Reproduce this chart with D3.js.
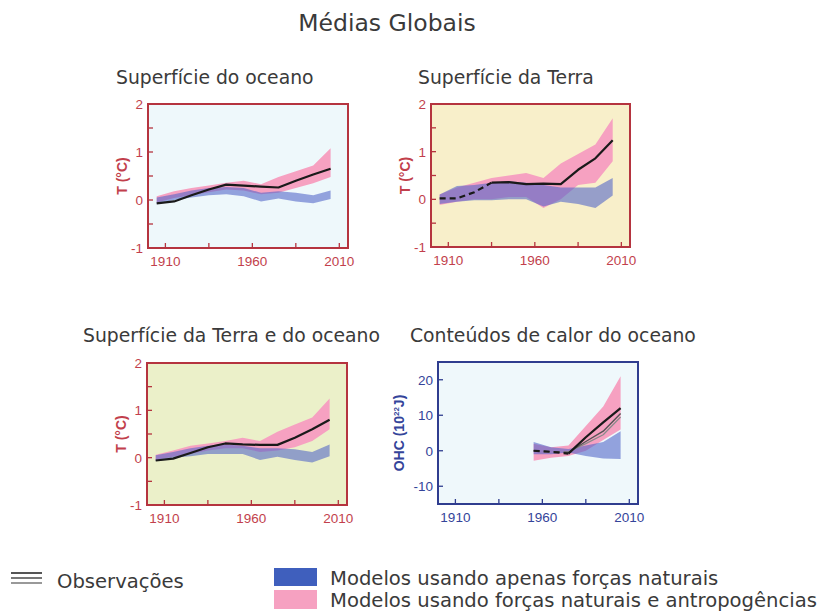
<!DOCTYPE html>
<html>
<head>
<meta charset="utf-8">
<script src="https://cdn.jsdelivr.net/npm/d3@7"></script>
<style>
  html, body { margin: 0; padding: 0; background: #fff; }
  svg { display: block; font-family: "DejaVu Sans", sans-serif; }
</style>
</head>
<body>
<svg id="chart" width="823" height="611"></svg>
<script>
// Decadal means (temperature anomalies in °C, ocean heat content in 10^22 J)
const decades = [1905, 1915, 1925, 1935, 1945, 1955, 1965, 1975, 1985, 1995, 2005];

// Ocean surface
const oceanObs   = [-0.07, -0.03, 0.10, 0.22, 0.32, 0.30, 0.28, 0.26, 0.40, 0.53, 0.65];
const oceanAllHi = [0.08, 0.18, 0.25, 0.30, 0.36, 0.40, 0.33, 0.48, 0.60, 0.72, 1.08];
const oceanAllLo = [-0.05, 0.04, 0.10, 0.16, 0.22, 0.20, 0.12, 0.15, 0.25, 0.35, 0.48];
const oceanNatHi = [0.05, 0.12, 0.20, 0.25, 0.27, 0.25, 0.15, 0.18, 0.15, 0.10, 0.20];
const oceanNatLo = [-0.08, 0.00, 0.05, 0.10, 0.12, 0.08, -0.03, 0.03, -0.03, -0.07, 0.02];

// Land surface
const landObs   = [0.02, 0.02, 0.15, 0.35, 0.36, 0.32, 0.33, 0.32, 0.62, 0.86, 1.24];
const landAllHi = [0.10, 0.25, 0.35, 0.45, 0.50, 0.55, 0.45, 0.75, 0.95, 1.15, 1.70];
const landAllLo = [-0.12, -0.05, 0.00, 0.00, 0.05, 0.05, -0.18, 0.00, 0.30, 0.35, 0.80];
const landNatHi = [0.10, 0.28, 0.30, 0.35, 0.38, 0.35, 0.30, 0.25, 0.25, 0.25, 0.45];
const landNatLo = [-0.10, -0.05, -0.02, -0.02, 0.00, 0.00, -0.15, -0.05, -0.10, -0.18, 0.08];

// Land and ocean surface
const globalObs   = [-0.06, -0.02, 0.10, 0.22, 0.30, 0.28, 0.27, 0.27, 0.42, 0.60, 0.80];
const globalAllHi = [0.06, 0.15, 0.25, 0.30, 0.35, 0.42, 0.35, 0.55, 0.70, 0.85, 1.25];
const globalAllLo = [-0.05, 0.02, 0.08, 0.15, 0.20, 0.20, 0.12, 0.15, 0.22, 0.35, 0.60];
const globalNatHi = [0.05, 0.12, 0.20, 0.25, 0.28, 0.25, 0.20, 0.20, 0.18, 0.12, 0.28];
const globalNatLo = [-0.07, 0.00, 0.03, 0.08, 0.08, 0.08, -0.05, 0.02, -0.05, -0.10, 0.03];

// Ocean heat content
const ohcDecades = [1955, 1965, 1975, 1985, 1995, 2005];
const ohcObsA  = [0.0, -0.3, -0.8, 3.8, 8.0, 12.0];
const ohcObsB  = [0.0, -0.2, -0.5, 2.6, 5.5, 10.5];
const ohcObsC  = [0.0, -0.4, -0.3, 2.0, 4.5, 9.5];
const ohcAllHi = [2.0, 1.0, 1.5, 7.0, 12.5, 21.0];
const ohcAllLo = [-2.8, -2.0, -1.5, 0.0, 3.0, 6.0];
const ohcNatHi = [2.5, 1.0, 0.5, 1.5, 2.5, 5.5];
const ohcNatLo = [-1.0, -1.0, -0.5, -1.5, -2.2, -2.3];

// Axis tick values
const xTicks = [1910, 1935, 1960, 1985, 2010];
const xTickLabels = [1910, 1960, 2010];
const tTicks = [-1, -0.5, 0, 0.5, 1, 1.5, 2];
const tTickLabels = [-1, 0, 1, 2];
const ohcTicks = [-10, 0, 10, 20];

const svg = d3.select("#chart");

const RED = "#b5343f";
const RED_TEXT = "#c23f4c";
const BLUE = "#2f3d8f";
const BLUE_TEXT = "#34449a";
const PINK = "#f6a1c1";
const NATBLUE = "#4f64c8";
const AXIS_FONT = "'Liberation Sans', Arial, sans-serif";

// Title
svg.append("text")
  .attr("x", 387).attr("y", 31)
  .attr("text-anchor", "middle")
  .attr("font-size", 23.5)
  .attr("fill", "#3a3a3a")
  .text("Médias Globais");

function zip(years, a, b) {
  return years.map((y, i) => ({ year: y, v0: a[i], v1: b ? b[i] : null }));
}

function drawPanel(cfg) {
  const g = svg.append("g").attr("transform", `translate(${cfg.x},${cfg.y})`);
  const W = cfg.w, H = cfg.h;

  const x = d3.scaleLinear().domain([1900, 2015]).range([0, W]);
  const y = d3.scaleLinear().domain(cfg.yDomain).range([H, 0]);

  g.append("rect").attr("width", W).attr("height", H).attr("fill", cfg.bg);

  const area = d3.area()
    .x(d => x(d.year))
    .y0(d => y(d.v0))
    .y1(d => y(d.v1));

  g.append("path")
    .datum(zip(cfg.years, cfg.allLo, cfg.allHi))
    .attr("d", area)
    .attr("fill", PINK);

  g.append("path")
    .datum(zip(cfg.years, cfg.natLo, cfg.natHi))
    .attr("d", area)
    .attr("fill", NATBLUE)
    .attr("fill-opacity", 0.58);

  const line = d3.line().x(d => x(d.year)).y(d => y(d.v0));

  cfg.obs.forEach(o => {
    const pts = zip(cfg.years, o.values);
    const dashed = pts.filter(d => d.year <= o.dashUntil);
    const solid = pts.filter(d => d.year >= o.dashUntil);
    if (dashed.length > 1) {
      g.append("path").datum(dashed).attr("d", line)
        .attr("fill", "none").attr("stroke", o.color).attr("stroke-width", o.width)
        .attr("stroke-dasharray", "6,4");
    }
    g.append("path").datum(solid).attr("d", line)
      .attr("fill", "none").attr("stroke", o.color).attr("stroke-width", o.width)
      .attr("stroke-linejoin", "round");
  });

  // inward ticks
  const tickLen = 5;
  g.selectAll(".xt").data(xTicks).enter().append("line")
    .attr("x1", d => x(d)).attr("x2", d => x(d))
    .attr("y1", H).attr("y2", H - tickLen)
    .attr("stroke", cfg.color).attr("stroke-width", 1.3);
  g.selectAll(".yt").data(cfg.yTicks).enter().append("line")
    .attr("x1", 0).attr("x2", tickLen)
    .attr("y1", d => y(d)).attr("y2", d => y(d))
    .attr("stroke", cfg.color).attr("stroke-width", 1.3);

  g.append("rect").attr("width", W).attr("height", H)
    .attr("fill", "none").attr("stroke", cfg.color).attr("stroke-width", 2);

  g.selectAll(".xl").data(xTickLabels).enter().append("text")
    .attr("x", d => x(d)).attr("y", H + 18)
    .attr("text-anchor", "middle")
    .attr("font-family", AXIS_FONT)
    .attr("font-size", 13.5).attr("fill", cfg.textColor)
    .text(d => d);
  g.selectAll(".yl").data(cfg.yLabels).enter().append("text")
    .attr("x", -5).attr("y", d => y(d) + 5)
    .attr("text-anchor", "end")
    .attr("font-family", AXIS_FONT)
    .attr("font-size", 13.5).attr("fill", cfg.textColor)
    .text(d => d);

  const yl = g.append("text")
    .attr("transform", `translate(${cfg.yLabelX},${H / 2}) rotate(-90)`)
    .attr("text-anchor", "middle")
    .attr("font-family", AXIS_FONT)
    .attr("font-size", 14).attr("font-weight", "bold")
    .attr("fill", cfg.textColor);
  cfg.yLabel(yl);

  svg.append("text")
    .attr("x", cfg.titleX).attr("y", cfg.titleY)
    .attr("font-size", 18.8).attr("fill", "#3a3a3a")
    .text(cfg.title);
}

const tempLabel = t => t.text("T (°C)");

drawPanel({
  x: 148, y: 104, w: 200, h: 144, bg: "#eef8fb", color: RED, textColor: RED_TEXT,
  yDomain: [-1, 2], yTicks: tTicks, yLabels: tTickLabels, yLabelX: -21, yLabel: tempLabel,
  years: decades, allLo: oceanAllLo, allHi: oceanAllHi, natLo: oceanNatLo, natHi: oceanNatHi,
  obs: [{ values: oceanObs, dashUntil: 1905, color: "#1a1a1a", width: 2.2 }],
  title: "Superfície do oceano", titleX: 116, titleY: 84
});

drawPanel({
  x: 431, y: 104, w: 199, h: 143, bg: "#f8efca", color: RED, textColor: RED_TEXT,
  yDomain: [-1, 2], yTicks: tTicks, yLabels: tTickLabels, yLabelX: -21, yLabel: tempLabel,
  years: decades, allLo: landAllLo, allHi: landAllHi, natLo: landNatLo, natHi: landNatHi,
  obs: [{ values: landObs, dashUntil: 1935, color: "#1a1a1a", width: 2.2 }],
  title: "Superfície da Terra", titleX: 418, titleY: 84
});

drawPanel({
  x: 147, y: 363, w: 200, h: 142, bg: "#ebf0c9", color: RED, textColor: RED_TEXT,
  yDomain: [-1, 2], yTicks: tTicks, yLabels: tTickLabels, yLabelX: -21, yLabel: tempLabel,
  years: decades, allLo: globalAllLo, allHi: globalAllHi, natLo: globalNatLo, natHi: globalNatHi,
  obs: [{ values: globalObs, dashUntil: 1905, color: "#1a1a1a", width: 2.2 }],
  title: "Superfície da Terra e do oceano", titleX: 83, titleY: 342
});

drawPanel({
  x: 438, y: 362, w: 200, h: 142, bg: "#eff8fb", color: BLUE, textColor: BLUE_TEXT,
  yDomain: [-15, 25], yTicks: ohcTicks, yLabels: ohcTicks, yLabelX: -34,
  yLabel: t => {
    t.append("tspan").text("OHC (10");
    t.append("tspan").attr("font-size", 8).attr("dy", -5).text("22");
    t.append("tspan").attr("dy", 5).text("J)");
  },
  years: ohcDecades, allLo: ohcAllLo, allHi: ohcAllHi, natLo: ohcNatLo, natHi: ohcNatHi,
  obs: [
    { values: ohcObsC, dashUntil: 1975, color: "#8a8a8a", width: 1.2 },
    { values: ohcObsB, dashUntil: 1975, color: "#555555", width: 1.4 },
    { values: ohcObsA, dashUntil: 1975, color: "#1a1a1a", width: 2.2 }
  ],
  title: "Conteúdos de calor do oceano", titleX: 410, titleY: 342
});

// Legend
const legend = svg.append("g");
[["#555", 573], ["#777", 578], ["#999", 583]].forEach(([c, yy]) => {
  legend.append("line").attr("x1", 11).attr("x2", 42).attr("y1", yy).attr("y2", yy)
    .attr("stroke", c).attr("stroke-width", 2);
});
legend.append("text").attr("x", 57).attr("y", 588).attr("font-size", 19.6)
  .attr("fill", "#3a3a3a").text("Observações");

legend.append("rect").attr("x", 274).attr("y", 568).attr("width", 43).attr("height", 18)
  .attr("fill", "#3f5fbd");
legend.append("text").attr("x", 330).attr("y", 585).attr("font-size", 19.6)
  .attr("fill", "#3a3a3a").text("Modelos usando apenas forças naturais");
legend.append("rect").attr("x", 274).attr("y", 590).attr("width", 43).attr("height", 19)
  .attr("fill", PINK);
legend.append("text").attr("x", 330).attr("y", 607).attr("font-size", 19.6)
  .attr("fill", "#3a3a3a").text("Modelos usando forças naturais e antropogências");
</script>
</body>
</html>
